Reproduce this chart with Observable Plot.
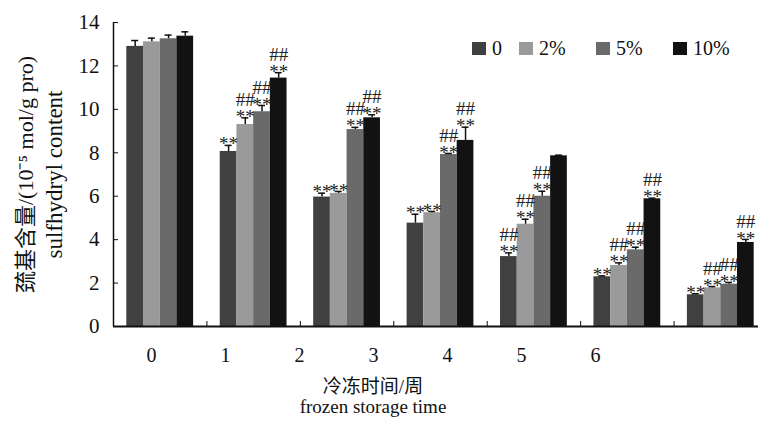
<!DOCTYPE html>
<html><head><meta charset="utf-8">
<script src="https://cdn.jsdelivr.net/npm/d3@7"></script>
<script src="https://cdn.jsdelivr.net/npm/@observablehq/plot@0.6"></script>
<style>
body{margin:0;background:#fff;}
#chart{position:relative;width:758px;height:421px;overflow:hidden;background:#fff;}
#chart svg{display:block;}
#chart svg, #chart svg text{font-family:'Liberation Serif','Noto Sans CJK SC',serif !important;}
#legend{position:absolute;left:472px;top:38px;}
#legend div{font-family:'Liberation Serif',serif !important;font-size:20px !important;margin:0 !important;min-height:0 !important;color:#111 !important;line-height:20px;}
#legend span{margin-right:0 !important;width:77px;line-height:20px;display:inline-flex;align-items:center;}
#legend span:first-of-type{width:47px;}
#legend span > svg{margin-right:6px !important;}
</style></head>
<body><div id="chart"><div id="legend"></div></div>
<script>
const weeks = ["0","1","2","3","4","5","6"];
const groups = ["0","2%","5%","10%"];
const colors = ["#404040","#9a9a9a","#6a6a6a","#121212"];
const yTicks = [0,2,4,6,8,10,12,14];
const boundaries = [1,2,3,4,5,6];

const mean0  = [12.90, 8.06, 5.96, 4.76, 3.22, 2.29, 1.46];
const mean2  = [13.11, 9.30, 6.13, 5.24, 4.71, 2.81, 1.78];
const mean5  = [13.25, 9.89, 9.07, 7.92, 6.00, 3.53, 1.95];
const mean10 = [13.37, 11.44, 9.61, 8.57, 7.86, 5.88, 3.87];

const err0  = [0.27, 0.28, 0.18, 0.41, 0.17, 0.04, 0.05];
const err2  = [0.17, 0.31, 0.09, 0.06, 0.23, 0.12, 0.06];
const err5  = [0.17, 0.29, 0.10, 0.05, 0.23, 0.12, 0.08];
const err10 = [0.20, 0.25, 0.14, 0.61, 0.03, 0.03, 0.14];

const star0  = ["", "**", "**", "**", "**", "**", "**"];
const star2  = ["", "**", "**", "**", "**", "**", "**"];
const star5  = ["", "**", "**", "**", "**", "**", "**"];
const star10 = ["", "**", "**", "**", "", "**", "**"];

const hash0  = ["", "", "", "", "##", "", ""];
const hash2  = ["", "##", "", "", "##", "##", "##"];
const hash5  = ["", "##", "##", "##", "##", "##", "##"];
const hash10 = ["", "##", "##", "##", "", "##", "##"];

const yTitleCn = "巯基含量/(10⁻⁵ mol/g pro)";
const yTitleEn = "sulfhydryl content";
const xTitleCn = "冷冻时间/周";
const xTitleEn = "frozen storage time";

const means = [mean0, mean2, mean5, mean10];
const errs = [err0, err2, err5, err10];
const stars = [star0, star2, star5, star10];
const hashes = [hash0, hash2, hash5, hash10];

const rows = [];
weeks.forEach((w, i) => groups.forEach((g, j) => rows.push({
  week: i, group: g, mean: means[j][i], err: errs[j][i], star: stars[j][i], hash: hashes[j][i]
})));

const inner = d3.scaleBand().domain(groups).range([0.1425, 0.8575]);
const bx1 = d => d.week + inner(d.group);
const bx2 = d => d.week + inner(d.group) + inner.bandwidth();
const bxc = d => d.week + inner(d.group) + inner.bandwidth() / 2;
const top_ = d => d.mean + d.err;

const FONT = "'Liberation Serif','Noto Sans CJK SC',serif";

const main = Plot.plot({
  width: 758, height: 340,
  marginTop: 22, marginBottom: 14, marginLeft: 113, marginRight: -9,
  style: {fontFamily: FONT, fontSize: "21px", color: "#111", background: "transparent"},
  x: {domain: [0, 7]},
  y: {domain: [0, 14]},
  color: {domain: groups, range: colors},
  marks: [
    Plot.rect(rows, {x1: bx1, x2: bx2, y1: 0, y2: "mean", fill: "group"}),
    Plot.ruleX(rows, {x: bxc, y1: "mean", y2: top_, stroke: "#111", strokeWidth: 1.5}),
    Plot.ruleY(rows, {x1: bxc, x2: bxc, y: top_, insetLeft: -3.5, insetRight: -3.5, stroke: "#111", strokeWidth: 1.5}),
    Plot.text(rows.filter(d => d.star), {x: bxc, y: top_, text: "star", dy: -1, fontSize: 19, fill: "#222"}),
    Plot.text(rows.filter(d => d.hash), {x: bxc, y: top_, text: "hash", dy: -18, fontSize: 19, fill: "#222"}),
    Plot.axisY({ticks: yTicks, tickSize: -5, tickPadding: 19, tickFormat: d => String(d), label: null, fontSize: 21}),
    Plot.axisX({ticks: boundaries, tickSize: -5, tickFormat: () => "", label: null}),
    Plot.ruleX([0], {y1: 0, y2: 14, stroke: "#111", strokeWidth: 1.5}),
    Plot.ruleY([0], {stroke: "#111", strokeWidth: 2}),
    Plot.text([yTitleCn], {frameAnchor: "left", textAnchor: "middle", rotate: -90, dx: -88, fontSize: 22, fill: "#111"}),
    Plot.text([yTitleEn], {frameAnchor: "left", textAnchor: "middle", rotate: -90, dx: -59, fontSize: 23, fill: "#111"})
  ]
});

const bottom = Plot.plot({
  width: 758, height: 81,
  marginTop: 0, marginBottom: 0, marginLeft: 150, marginRight: 163,
  style: {fontFamily: FONT, fontSize: "20px", color: "#111", background: "transparent"},
  x: {type: "point", domain: weeks, padding: 0, axis: null},
  marks: [
    Plot.text(weeks, {x: d => d, frameAnchor: "top", dy: 7, fontSize: 20, fill: "#111"}),
    Plot.text([xTitleCn], {frameAnchor: "top", dy: 39, fontSize: 19, fill: "#111"}),
    Plot.text([xTitleEn], {frameAnchor: "top", dy: 59, fontSize: 19, fill: "#111"})
  ]
});

const chart = document.getElementById("chart");
chart.insertBefore(main, chart.firstChild);
chart.insertBefore(bottom, document.getElementById("legend"));

const leg = Plot.legend({
  color: {type: "ordinal", domain: groups, range: colors},
  swatchWidth: 14, swatchHeight: 13, className: "lg"
});
document.getElementById("legend").appendChild(leg);
</script>
</body></html>
